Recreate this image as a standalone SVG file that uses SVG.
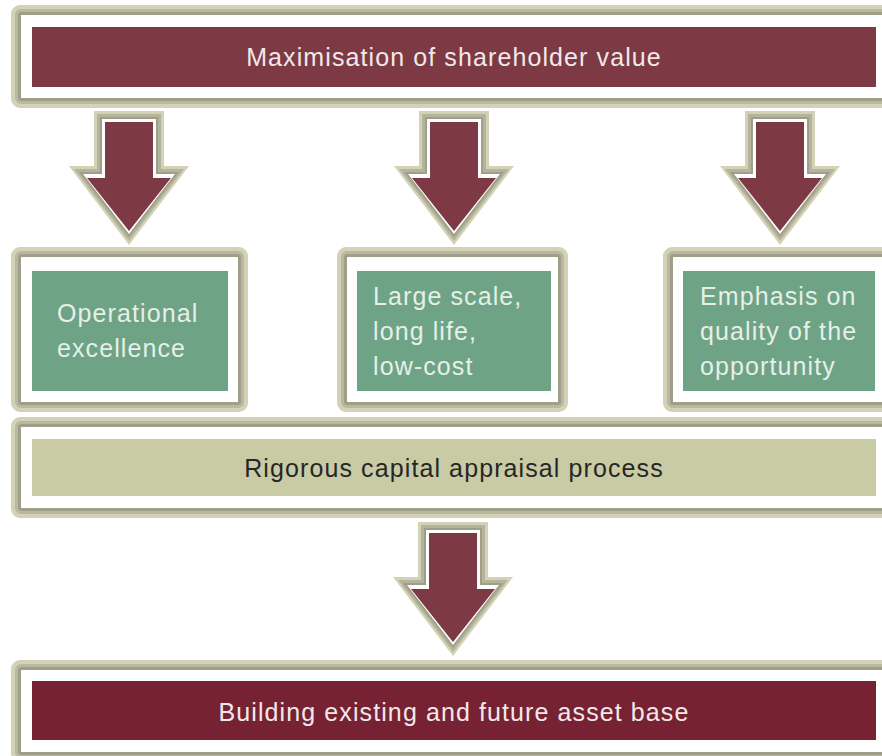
<svg xmlns="http://www.w3.org/2000/svg" width="882" height="756" viewBox="0 0 882 756">
<style>
.fl{fill:#ffffff;stroke:#d3d2b6;stroke-width:10}
.fm{fill:none;stroke:#b9b9a1;stroke-width:6}
.fd{fill:none;stroke:#9e9e89;stroke-width:3}
.t{font-family:"Liberation Sans",Arial,sans-serif;font-size:25px;letter-spacing:1.1px}
.tw{fill:#f2e8ea}
.tg{fill:#e6efe8}
.tk{fill:#262626}
.maroon{fill:#7d3a45}
.maroon2{fill:#772232}
.green{fill:#6ea386}
.beige{fill:#c9cba4}
</style>
<defs>
<g id="arrow">
<path d="M-35,0 H35 V55 H60 L0,134 L-60,55 H-35 Z" fill="#d3d2b6"/>
<path d="M-32,3 H32 V58 H55 L0,130 L-55,58 H-32 Z" fill="#b4b49c"/>
<path d="M-29,6 H29 V61 H50 L0,126 L-50,61 H-29 Z" fill="#9e9e89"/>
<path d="M-27,8 H27 V63 H46 L0,123 L-46,63 H-27 Z" fill="#ffffff"/>
<path d="M-24,11 H24 V67 H42 L0,120 L-42,67 H-24 Z" fill="#7d3a45"/>
</g>
</defs>
<rect width="882" height="756" fill="#ffffff"/>

<g id="connectors">
<use href="#arrow" transform="translate(129,111)"/>
<use href="#arrow" transform="translate(454,111)"/>
<use href="#arrow" transform="translate(780,111)"/>
<use href="#arrow" transform="translate(453,522)"/>
</g>

<g id="node-shareholder">
<rect class="fl" x="16" y="10" width="890" height="93" rx="4"/>
<rect class="fm" x="18" y="12" width="886" height="89" rx="3"/>
<rect class="fd" x="19.5" y="13.5" width="883" height="86" rx="2"/>
<rect class="maroon" x="32" y="27" width="844" height="60"/>
<text class="t tw" x="454" y="66" text-anchor="middle">Maximisation of shareholder value</text>
</g>

<g id="node-operational">
<rect class="fl" x="16" y="252" width="227" height="155" rx="4"/>
<rect class="fm" x="18" y="254" width="223" height="151" rx="3"/>
<rect class="fd" x="19.5" y="255.5" width="220" height="148" rx="2"/>
<rect class="green" x="32" y="271" width="196" height="120"/>
<text class="t tg" x="57" y="322">Operational</text>
<text class="t tg" x="57" y="357">excellence</text>
</g>

<g id="node-large-scale">
<rect class="fl" x="342" y="252" width="221" height="155" rx="4"/>
<rect class="fm" x="344" y="254" width="217" height="151" rx="3"/>
<rect class="fd" x="345.5" y="255.5" width="214" height="148" rx="2"/>
<rect class="green" x="357" y="271" width="194" height="120"/>
<text class="t tg" x="373" y="305">Large scale,</text>
<text class="t tg" x="373" y="340">long life,</text>
<text class="t tg" x="373" y="375">low-cost</text>
</g>

<g id="node-emphasis">
<rect class="fl" x="668" y="252" width="240" height="155" rx="4"/>
<rect class="fm" x="670" y="254" width="236" height="151" rx="3"/>
<rect class="fd" x="671.5" y="255.5" width="233" height="148" rx="2"/>
<rect class="green" x="683" y="271" width="192" height="120"/>
<text class="t tg" x="700" y="305">Emphasis on</text>
<text class="t tg" x="700" y="340">quality of the</text>
<text class="t tg" x="700" y="375">opportunity</text>
</g>

<g id="node-rigorous">
<rect class="fl" x="16" y="422" width="890" height="91" rx="4"/>
<rect class="fm" x="18" y="424" width="886" height="87" rx="3"/>
<rect class="fd" x="19.5" y="425.5" width="883" height="84" rx="2"/>
<rect class="beige" x="32" y="439" width="844" height="57"/>
<text class="t tk" x="454" y="477" text-anchor="middle">Rigorous capital appraisal process</text>
</g>

<g id="node-building">
<rect class="fl" x="16" y="665" width="890" height="92" rx="4"/>
<rect class="fm" x="18" y="667" width="886" height="88" rx="3"/>
<rect class="fd" x="19.5" y="668.5" width="883" height="85" rx="2"/>
<rect class="maroon2" x="32" y="681" width="844" height="59"/>
<text class="t tw" x="454" y="721" text-anchor="middle">Building existing and future asset base</text>
</g>
</svg>
